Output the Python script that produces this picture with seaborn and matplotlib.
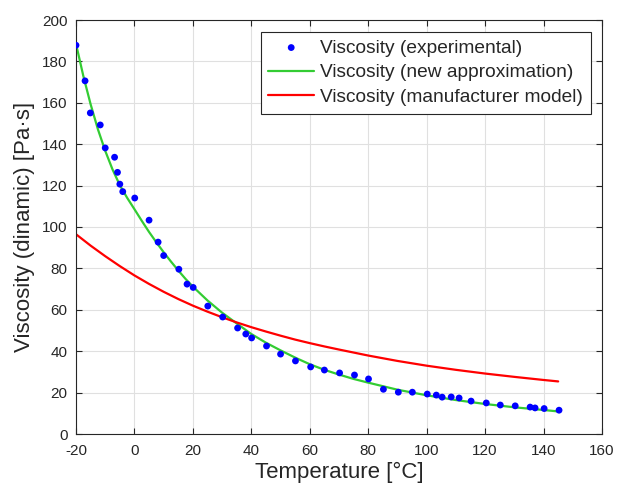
import numpy as np
import pandas as pd
import matplotlib
matplotlib.use("Agg")
import matplotlib.pyplot as plt
import seaborn as sns

exp_T = [-20, -16.9, -15.1, -11.7, -10.0, -6.8, -5.8, -5.0, -4.0, 0.1, 5.0, 8.1,
         10.0, 15.2, 18.0, 20.1, 25.1, 30.2, 35.3, 38.1, 40.1, 45.2, 50.0, 55.1,
         60.3, 65.0, 70.2, 75.3, 80.1, 85.2, 90.3, 95.1, 100.2, 103.3, 105.3,
         108.4, 111.1, 115.2, 120.4, 125.2, 130.3, 135.4, 137.1, 140.2, 145.3]
exp_visc = [187.8, 170.6, 155.1, 149.3, 138.2, 133.7, 126.4, 120.7, 117.1, 114.0,
            103.3, 92.7, 86.2, 79.6, 72.4, 70.8, 61.8, 56.5, 51.2, 48.3, 46.4,
            42.5, 38.6, 35.3, 32.4, 30.9, 29.5, 28.5, 26.6, 21.6, 20.2, 20.2,
            19.3, 18.8, 17.8, 17.9, 17.4, 15.9, 15.0, 14.0, 13.6, 13.0, 12.6,
            12.3, 11.5]

# New approximation curve
approx_T = [-20, -17.5, -15, -12.5, -10, -7.5, -5, -2.5, 0, 2.5, 5, 7.5, 10,
            12.5, 15, 17.5, 20, 25, 30, 35, 40, 45, 50, 55, 60, 65, 70, 75, 80,
            90, 100, 110, 120, 130, 140, 145]
approx_visc = [188.5, 173.0, 159.3, 147.2, 136.8, 127.8, 120.2, 114.1, 108.6,
               103.0, 97.6, 92.6, 87.8, 83.3, 79.0, 74.9, 71.2, 64.5, 58.6,
               53.4, 48.3, 44.1, 40.4, 36.9, 33.7, 31.0, 28.7, 26.6, 24.8, 21.4,
               18.7, 16.4, 14.5, 12.9, 11.6, 10.9]

# Manufacturer model curve
manuf_T = [-20, -15, -10, -5, 0, 5, 10, 15, 20, 25, 30, 35, 40, 45, 50, 55, 60,
           65, 70, 80, 90, 100, 110, 120, 130, 140, 145]
manuf_visc = [96.5, 91.0, 85.9, 81.1, 76.6, 72.5, 68.7, 65.2, 62.0, 59.1, 56.4,
              53.9, 51.6, 49.5, 47.5, 45.6, 43.9, 42.3, 40.8, 37.9, 35.3, 33.0,
              31.0, 29.2, 27.6, 26.1, 25.4]

sns.set_style("whitegrid")
plt.rcParams['font.family'] = ['Liberation Sans', 'DejaVu Sans']
plt.rcParams['axes.unicode_minus'] = False

fig = plt.figure(figsize=(6.19, 4.92), dpi=100)
ax = fig.add_axes([76/619, 1 - 434/492, (602-76)/619, (434-20)/492])

dark = (0.15, 0.15, 0.15)

sns.scatterplot(x=exp_T, y=exp_visc, ax=ax, color=(0, 0, 1), s=24,
                edgecolor='none', label='Viscosity (experimental)', zorder=3)
sns.lineplot(x=approx_T, y=approx_visc, ax=ax, color=(0.2, 0.8, 0.2), lw=1.6,
             label='Viscosity (new approximation)', zorder=2)
sns.lineplot(x=manuf_T, y=manuf_visc, ax=ax, color=(1, 0, 0), lw=1.6,
             label='Viscosity (manufacturer model)', zorder=2)

ax.set_xlim(-20, 160)
ax.set_ylim(0, 200)
ax.set_xticks(np.arange(-20, 161, 20))
ax.set_yticks(np.arange(0, 201, 20))
ax.grid(True, color=(0.88, 0.88, 0.88), lw=0.8)
for s in ax.spines.values():
    s.set_color(dark)
    s.set_linewidth(0.8)
    s.set_visible(True)
ax.tick_params(direction='in', length=4, width=0.8, colors=dark, labelsize=11,
               top=True, right=True, bottom=True, left=True,
               labeltop=False, labelright=False)
ax.tick_params(axis='x', pad=7)
ax.tick_params(axis='y', pad=6)
for lab in ax.get_xticklabels() + ax.get_yticklabels():
    lab.set_color(dark)

ax.set_xlabel('Temperature [°C]', fontsize=16, color=dark, labelpad=3)
ax.set_ylabel('Viscosity (dinamic) [Pa·s]', fontsize=16, color=dark, labelpad=5)

leg = ax.legend(loc='upper right', fontsize=13.8, frameon=True, fancybox=False,
                framealpha=1, edgecolor=dark, borderaxespad=0.6,
                handlelength=2.4, handletextpad=0.3, labelspacing=0.38,
                borderpad=0.4)
leg.get_frame().set_linewidth(0.8)

fig.savefig('out.png', dpi=100)
